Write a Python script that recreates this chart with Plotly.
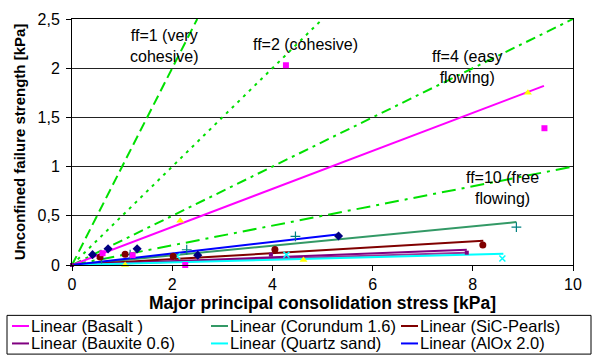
import plotly.graph_objects as go

# ---------------- data ----------------
# flowability reference lines (sigma_c = sigma_1 / ff)
ref_labels = ["ff=1 (very<br>cohesive)", "ff=2 (cohesive)", "ff=4 (easy<br>flowing)", "ff=10 (free<br>flowing)"]
ref_x_end = [2.5, 5.0, 10.0, 10.0]
ref_y_end = [2.5, 2.5, 2.5, 1.0]
ref_dash = ["10px,5px", "3px,5px", "10px,5px,3px,5px", "14px,6px,3px,6px"]
ref_label_x = [1.84, 4.67, 7.88, 8.6]
ref_label_y = [2.23, 2.24, 2.01, 0.78]

# measured points
basalt_x = [0.61, 1.21, 2.26, 4.27, 9.43]
basalt_y = [0.12, 0.10, 0.0, 2.03, 1.39]
corundum_x = [0.59, 1.16, 2.29, 4.46, 8.87]
corundum_y = [0.066, 0.105, 0.155, 0.29, 0.384]
sic_x = [0.56, 1.06, 2.02, 4.05, 8.2]
sic_y = [0.082, 0.108, 0.088, 0.157, 0.204]
alox_x = [0.41, 0.72, 1.30, 2.51, 5.32]
alox_y = [0.105, 0.164, 0.164, 0.10, 0.295]
quartz_x = [2.1, 4.28, 8.59]
quartz_y = [0.089, 0.105, 0.066]
yellow_x = [1.06, 2.16, 4.62, 9.1]
yellow_y = [0.0, 0.45, 0.052, 1.75]
bauxite_x = [0.0, 2.0, 3.97, 7.88]
bauxite_y = [0.0, 0.075, 0.105, 0.125]

# linear trend lines (end points, all start at origin)
trend_names = ["Linear (Basalt )", "Linear (Corundum 1.6)", "Linear (SiC-Pearls)",
               "Linear (Bauxite 0.6)", "Linear (Quartz sand)", "Linear (AlOx 2.0)"]
trend_colors = ["#FF00FF", "#339966", "#800000", "#800080", "#00FFFF", "#0000FF"]
trend_x_end = [9.42, 8.87, 8.21, 7.88, 8.61, 5.30]
trend_y_end = [1.82, 0.436, 0.246, 0.155, 0.115, 0.31]
extra_trend_x_end = [7.88]
extra_trend_y_end = [0.125]
extra_trend_color = ["#993399"]

x_ticks = [0, 2, 4, 6, 8, 10]
y_ticks = [0, 0.5, 1, 1.5, 2, 2.5]
y_ticktext = ["0", "0,5", "1", "1,5", "2", "2,5"]

FONT = "Liberation Sans, Arial, sans-serif"
GREEN = "#00E000"

fig = go.Figure()

# reference lines
for i in range(len(ref_x_end)):
    fig.add_trace(go.Scatter(x=[0, ref_x_end[i]], y=[0, ref_y_end[i]], mode="lines",
                             line=dict(color=GREEN, width=2, dash=ref_dash[i]),
                             showlegend=False, hoverinfo="skip"))

# trend lines
for i in range(len(extra_trend_x_end)):
    fig.add_trace(go.Scatter(x=[0, extra_trend_x_end[i]], y=[0, extra_trend_y_end[i]], mode="lines",
                             line=dict(color=extra_trend_color[i], width=2), showlegend=False))
for i in range(len(trend_names)):
    fig.add_trace(go.Scatter(x=[0, trend_x_end[i]], y=[0, trend_y_end[i]], mode="lines",
                             name=trend_names[i], line=dict(color=trend_colors[i], width=2),
                             showlegend=False))

# markers
def markers(x, y, color, symbol, size, lw=0):
    fig.add_trace(go.Scatter(x=x, y=y, mode="markers", cliponaxis=False,
                             marker=dict(color=color, symbol=symbol, size=size,
                                         line=dict(color=color, width=lw)),
                             showlegend=False))

markers(yellow_x, yellow_y, "#FFFF00", "triangle-up", 7)
markers(bauxite_x, bauxite_y, "#800080", "square", 4)
markers(quartz_x, quartz_y, "#00FFFF", "x-thin", 6, 1.5)
markers(corundum_x, corundum_y, "#008080", "cross-thin", 7, 1.2)
markers(sic_x, sic_y, "#800000", "circle", 7)
markers(alox_x, alox_y, "#000080", "diamond", 7)
markers(basalt_x, basalt_y, "#FF00FF", "square", 6)

# reference line labels
for i in range(len(ref_labels)):
    fig.add_annotation(x=ref_label_x[i], y=ref_label_y[i], text=ref_labels[i], showarrow=False,
                       xref="x", yref="y", font=dict(family=FONT, size=16, color="black"),
                       align="center")

# ----- legend box below the plot (pixel layout converted to paper coords) -----
W, H = 598, 360
L, R, T, B = 72, 25, 11, 95
pw, ph = W - L - R, H - T - B

def px(xp):
    return (xp - L) / pw

def py(yp):
    return (H - B - yp) / ph

fig.add_shape(type="rect", xref="paper", yref="paper", x0=px(7), x1=px(591), y0=py(317), y1=py(357),
              line=dict(color="black", width=1), fillcolor="white")
col_x = [12, 211, 401]
row_y = [328, 346]
for i, name in enumerate(trend_names):
    c, r = i % 3, i // 3
    fig.add_shape(type="line", xref="paper", yref="paper", x0=px(col_x[c]), x1=px(col_x[c] + 17),
                  y0=py(row_y[r]), y1=py(row_y[r]), line=dict(color=trend_colors[i], width=2))
    fig.add_annotation(xref="paper", yref="paper", x=px(col_x[c] + 17), y=py(row_y[r]), text=name,
                       showarrow=False, xanchor="left", yanchor="middle",
                       font=dict(family=FONT, size=16.5, color="black"))

fig.update_layout(
    width=W, height=H,
    margin=dict(l=L, r=R, t=T, b=B),
    paper_bgcolor="white", plot_bgcolor="white",
    font=dict(family=FONT, size=16, color="black"),
    showlegend=False,
    xaxis=dict(range=[0, 10], tickvals=x_ticks, ticks="outside", ticklen=5, tickcolor="black",
               showline=True, linecolor="black", linewidth=1, mirror=True, showgrid=False, zeroline=False,
               tickfont=dict(family=FONT, size=16),
               title=dict(text="<b>Major principal consolidation stress [kPa]</b>", standoff=2,
                          font=dict(family=FONT, size=17.5))),
    yaxis=dict(range=[0, 2.5], tickvals=y_ticks, ticktext=y_ticktext, ticks="outside", ticklen=5,
               tickcolor="black", showline=True, linecolor="black", linewidth=1, mirror=True,
               showgrid=True, gridcolor="#222222", gridwidth=1, zeroline=False,
               ticklabelstandoff=3,
               tickfont=dict(family=FONT, size=16),
               title=dict(text="<b>Unconfined failure strength [kPa]</b>", standoff=8,
                          font=dict(family=FONT, size=15))),
)

fig.write_html("out.html")
